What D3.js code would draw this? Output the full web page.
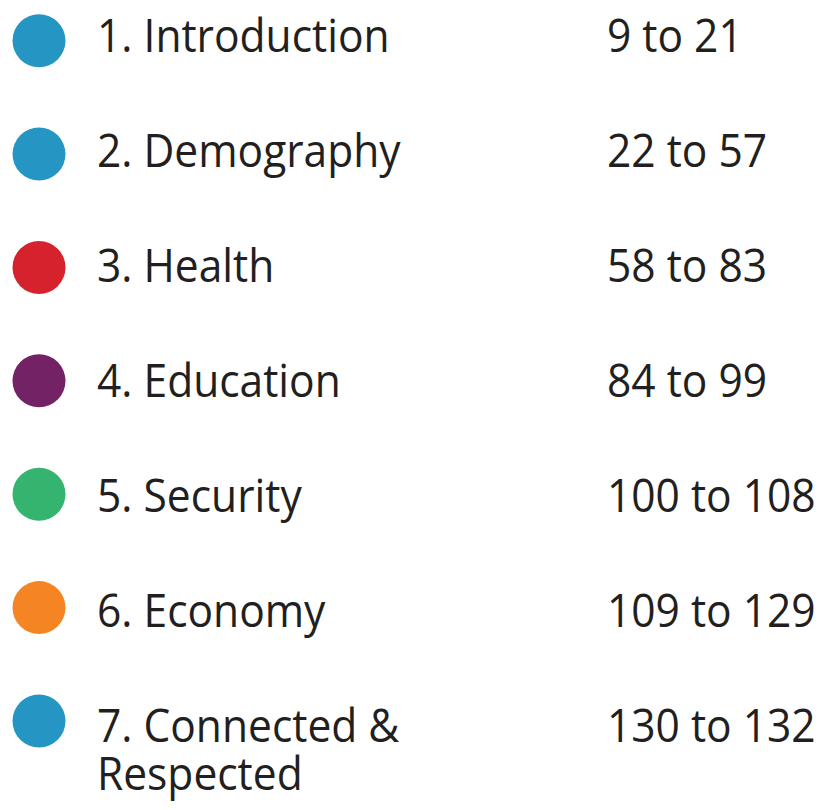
<!DOCTYPE html>
<html>
<head>
<meta charset="utf-8">
<script src="https://cdn.jsdelivr.net/npm/d3@7"></script>
<style>
  html, body { margin: 0; padding: 0; background: #fff; }
  svg { display: block; }
</style>
</head>
<body>
<svg id="toc"></svg>
<script>
const chapters = ['1. Introduction', '2. Demography', '3. Health', '4. Education', '5. Security', '6. Economy', '7. Connected &\nRespected'];
const pageFrom = [9, 22, 58, 84, 100, 109, 130];
const pageTo = [21, 57, 83, 99, 108, 129, 132];
const colours = ['#2596c4', '#2596c4', '#d5222d', '#722265', '#35b46f', '#f58523', '#2596c4'];

const width = 824, height = 810;
const svg = d3.select('#toc').attr('width', width).attr('height', height);

const rows = chapters.map((c, i) => ({ label: c, from: pageFrom[i], to: pageTo[i], colour: colours[i] }));

// dots drift a little against the text in the original, so they get their own scale
const yDot = d3.scalePoint()
  .domain(d3.range(rows.length))
  .range([40.7, 721]);

const yText = d3.scalePoint()
  .domain(d3.range(rows.length))
  .range([52, 742]);

const font = '"Open Sans", sans-serif';
const fontSize = 45;
// Open Sans runs a bit wider than the original face, squeeze it
const squeeze = 0.945;

svg.selectAll('.dot')
  .data(rows)
  .enter().append('circle')
  .attr('class', 'dot')
  .attr('cx', 39)
  .attr('cy', (d, i) => yDot(i))
  .attr('r', 26.5)
  .attr('fill', d => d.colour);

const label = svg.selectAll('.label')
  .data(rows)
  .enter().append('text')
  .attr('class', 'label')
  .attr('transform', (d, i) => `translate(97,${yText(i)}) scale(${squeeze},1)`)
  .style('font-family', font)
  .style('font-size', fontSize + 'px')
  .style('fill', '#231f20');

label.selectAll('tspan')
  .data(d => d.label.split('\n'))
  .enter().append('tspan')
  .attr('x', 0)
  .attr('dy', (d, i) => i ? 48.5 : 0)
  .text(d => d);

svg.selectAll('.pages')
  .data(rows)
  .enter().append('text')
  .attr('class', 'pages')
  .attr('transform', (d, i) => `translate(607,${yText(i)}) scale(${squeeze},1)`)
  .style('font-family', font)
  .style('font-size', fontSize + 'px')
  .style('fill', '#231f20')
  .text(d => `${d.from} to ${d.to}`);
</script>
</body>
</html>
